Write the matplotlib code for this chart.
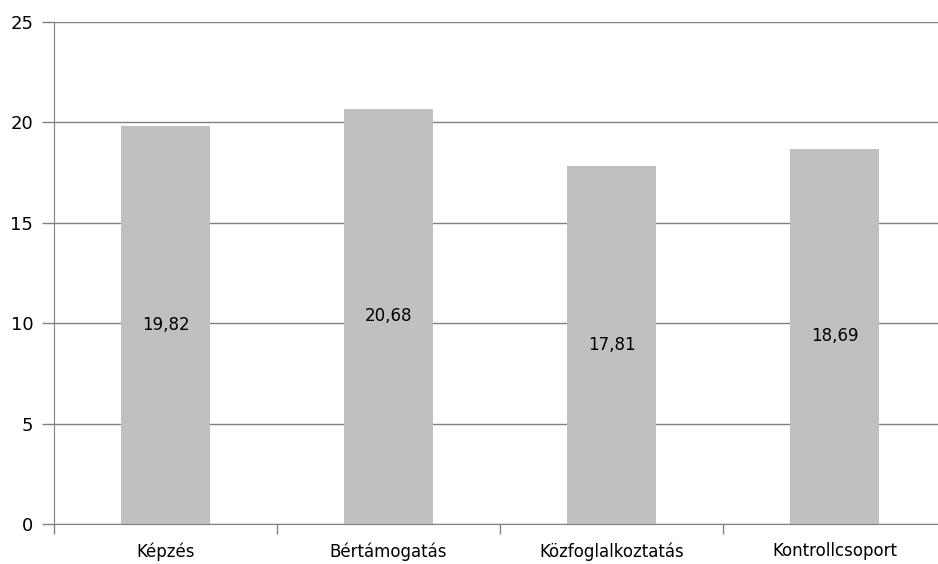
import matplotlib.pyplot as plt
import numpy as np

categories = ['Képzés', 'Bértámogatás', 'Közfoglalkoztatás', 'Kontrollcsoport']
values = [19.82, 20.68, 17.81, 18.69]
y_ticks = [0, 5, 10, 15, 20, 25]

plt.rcParams['font.family'] = ['DejaVu Sans']

fig = plt.figure(figsize=(9.38, 5.64), dpi=100)
ax = fig.add_axes([54 / 938, 40 / 564, 892 / 938, 502 / 564])

x = np.arange(len(categories))
ax.bar(x, values, width=0.4, color='#c0c0c0', zorder=2)

# value labels sit in the middle of each bar
for xi, v in zip(x, values):
    ax.text(xi, v / 2, f'{v:.2f}'.replace('.', ','), ha='center', va='center',
            fontsize=12, color='black', zorder=3)

ax.set_xlim(-0.5, len(categories) - 0.5)
ax.set_ylim(0, 25)
ax.set_yticks(y_ticks)
ax.set_yticklabels([str(t) for t in y_ticks], fontsize=13)
ax.grid(axis='y', color='#808080', linewidth=1, zorder=1)

# category names centered, tick marks at category boundaries
ax.set_xticks(x)
ax.set_xticklabels(categories, fontsize=12)
ax.tick_params(axis='x', length=0, pad=13)
ax.set_xticks(np.arange(len(categories) + 1) - 0.5, minor=True)
ax.tick_params(axis='x', which='minor', length=7, color='#808080', width=1)
ax.tick_params(axis='y', length=9, color='#808080', width=1, pad=6)

for side in ['top', 'right']:
    ax.spines[side].set_visible(False)
for side in ['left', 'bottom']:
    ax.spines[side].set_color('#808080')

plt.savefig('out.png', dpi=100)
